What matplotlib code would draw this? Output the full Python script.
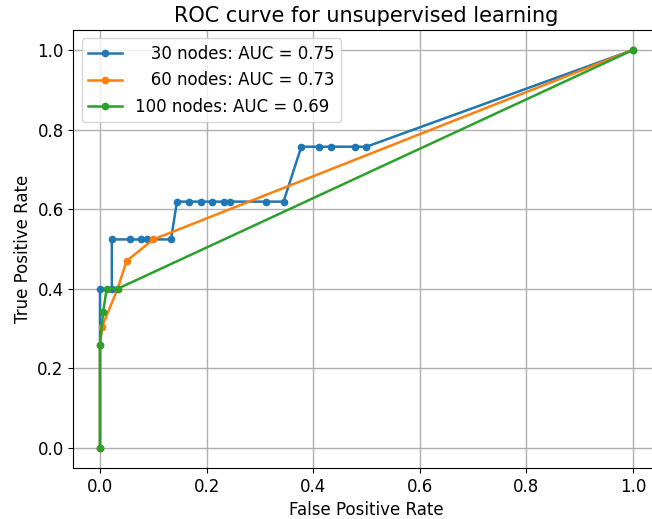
import matplotlib
matplotlib.use("Agg")
import matplotlib.pyplot as plt

# ROC points
fpr_30 = [0.0, 0.0, 0.0222, 0.0222, 0.0556, 0.0778, 0.0889, 0.1333, 0.1444,
          0.1667, 0.1889, 0.2111, 0.2333, 0.2444, 0.3111, 0.3444, 0.3778,
          0.4111, 0.4333, 0.4778, 0.5, 1.0]
tpr_30 = [0.0, 0.4, 0.4, 0.524, 0.524, 0.524, 0.524, 0.524, 0.619,
          0.619, 0.619, 0.619, 0.619, 0.619, 0.619, 0.619, 0.757,
          0.757, 0.757, 0.757, 0.757, 1.0]

fpr_60 = [0.0, 0.0, 0.004, 0.033, 0.05, 0.1, 1.0]
tpr_60 = [0.0, 0.26, 0.305, 0.4, 0.47, 0.524, 1.0]

fpr_100 = [0.0, 0.0, 0.006, 0.0125, 0.033, 1.0]
tpr_100 = [0.0, 0.26, 0.342, 0.4, 0.4, 1.0]

labels = ["   30 nodes: AUC = 0.75", "   60 nodes: AUC = 0.73", "100 nodes: AUC = 0.69"]

fig = plt.figure(figsize=(6.52, 5.19), dpi=100)
ax = fig.add_axes([0.1125, 0.0985, 0.899, 0.8435])

for fpr, tpr, lab in zip([fpr_30, fpr_60, fpr_100], [tpr_30, tpr_60, tpr_100], labels):
    ax.plot(fpr, tpr, marker='.', markersize=9, linewidth=1.8, label=lab)

ax.set_title("ROC curve for unsupervised learning", fontsize=15)
ax.set_xlabel("False Positive Rate", fontsize=12)
ax.set_ylabel("True Positive Rate", fontsize=12)
ax.tick_params(labelsize=12)
ax.grid(True, color='#b0b0b0', linewidth=1)
ax.legend(loc='upper left', fontsize=12)

fig.savefig("out.png", dpi=100)
